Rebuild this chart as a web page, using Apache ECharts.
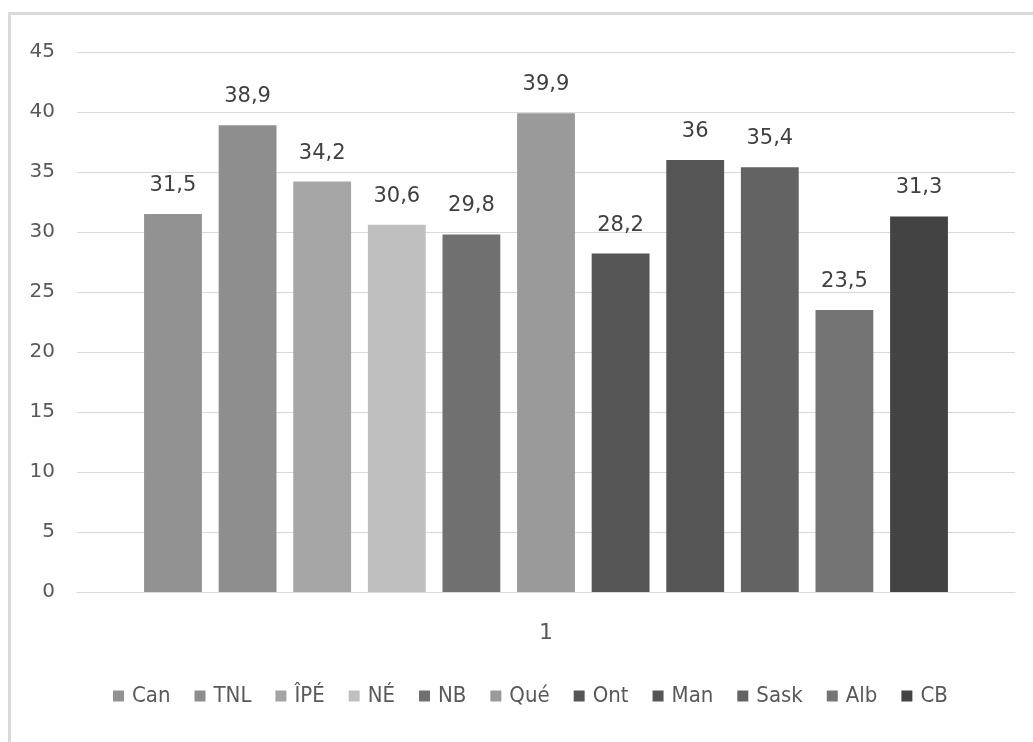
<!DOCTYPE html>
<html>
<head>
<meta charset="utf-8">
<style>
html,body{margin:0;padding:0;background:#fff;}
#chart{width:1033px;height:742px;}
</style>
<script src="https://cdn.jsdelivr.net/npm/echarts@6/dist/echarts.min.js"></script>
</head>
<body>
<div id="chart"></div>
<script>
const categories = ['1'];
const seriesNames = ['Can', 'TNL', 'ÎPÉ', 'NÉ', 'NB', 'Qué', 'Ont', 'Man', 'Sask', 'Alb', 'CB'];
const seriesValues = [31.5, 38.9, 34.2, 30.6, 29.8, 39.9, 28.2, 36, 35.4, 23.5, 31.3];
const seriesColors = ['#929292', '#8e8e8e', '#a5a5a5', '#bfbfbf', '#707070', '#9a9a9a', '#555555', '#555555', '#636363', '#747474', '#434343'];
const yTicks = [0, 5, 10, 15, 20, 25, 30, 35, 40, 45];

const chart = echarts.init(document.getElementById('chart'));
const series = seriesNames.map((n, i) => ({
  name: n,
  type: 'bar',
  data: [seriesValues[i]],
  itemStyle: { color: seriesColors[i] },
  barGap: '29%',
  barCategoryGap: '14.3%',
  label: {
    show: true,
    position: 'top',
    distance: 18,
    color: '#404040',
    fontFamily: 'DejaVu Sans',
    fontSize: 21,
    formatter: p => String(p.value).replace('.', ',')
  }
}));

chart.setOption({
  animation: false,
  backgroundColor: '#fff',
  graphic: [{
    type: 'rect',
    shape: { x: 9.5, y: 13.5, width: 1100, height: 900 },
    style: { fill: 'none', stroke: '#d9d9d9', lineWidth: 3 },
    silent: true
  }],
  grid: { left: 77, right: 18, top: 52, bottom: 150, containLabel: false },
  legend: {
    data: seriesNames,
    bottom: 30,
    left: 108,
    itemWidth: 11,
    itemHeight: 11,
    itemGap: 24,
    icon: 'rect',
    textStyle: { color: '#595959', fontFamily: 'DejaVu Sans Condensed, Liberation Sans Narrow, sans-serif', fontSize: 22, padding: [0, 0, 0, 3] }
  },
  xAxis: {
    type: 'category',
    data: categories,
    axisLine: { show: true, lineStyle: { color: '#d9d9d9', width: 1 } },
    axisTick: { show: false },
    axisLabel: { color: '#595959', fontFamily: 'DejaVu Sans', fontSize: 22, margin: 30 }
  },
  yAxis: {
    type: 'value',
    min: yTicks[0],
    max: yTicks[yTicks.length - 1],
    interval: 5,
    axisLine: { show: false },
    axisTick: { show: false },
    splitLine: { lineStyle: { color: '#d9d9d9', width: 1 } },
    axisLabel: { color: '#595959', fontFamily: 'DejaVu Sans', fontSize: 20, margin: 22 }
  },
  series: series
});
</script>
</body>
</html>
